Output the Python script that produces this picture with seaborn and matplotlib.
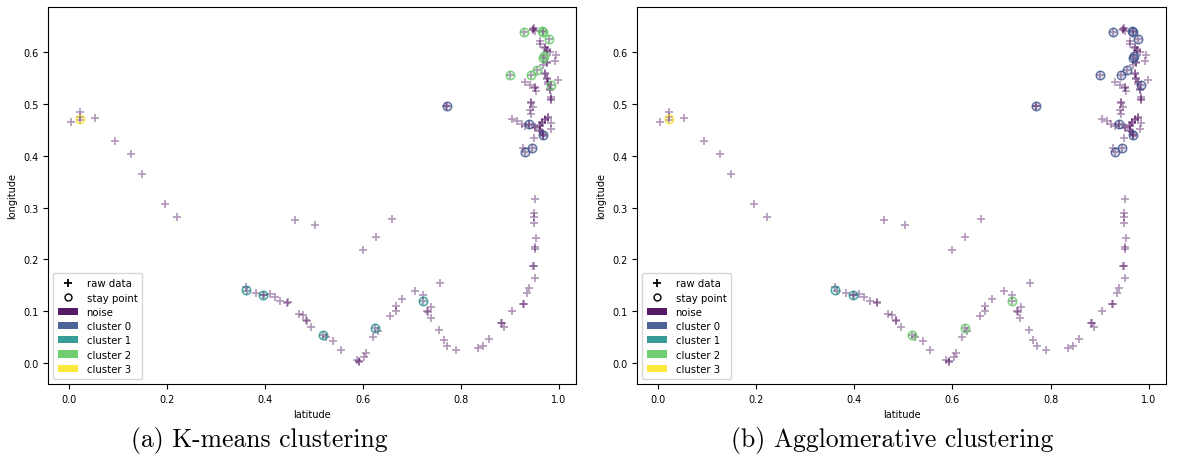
import numpy as np
import pandas as pd
import matplotlib
matplotlib.use("Agg")
import matplotlib.pyplot as plt
from matplotlib.lines import Line2D
from matplotlib.patches import Patch
import seaborn as sns

# Raw GPS trajectory (normalised)
raw_lat = [
    0.004, 0.022, 0.022, 0.022, 0.053, 0.093, 0.127, 0.148, 0.195, 0.221,
    0.461, 0.503, 0.600, 0.626, 0.659,
    0.361, 0.364, 0.382, 0.397, 0.399, 0.410, 0.420, 0.431, 0.446, 0.447,
    0.469, 0.477, 0.484, 0.485, 0.495, 0.518, 0.524, 0.539, 0.555, 0.587,
    0.592, 0.593, 0.603, 0.607, 0.620, 0.625, 0.630, 0.656, 0.667, 0.667,
    0.680, 0.706, 0.722, 0.722, 0.758, 0.731, 0.733, 0.740, 0.738, 0.755,
    0.765, 0.772, 0.790, 0.835, 0.846, 0.857, 0.882, 0.884, 0.888, 0.905,
    0.926, 0.928, 0.935, 0.939, 0.952, 0.948, 0.949, 0.952, 0.951, 0.954,
    0.949, 0.950, 0.950, 0.952,
    0.770, 0.771,
    0.948, 0.948, 0.949, 0.952, 0.961, 0.961, 0.967, 0.967, 0.928, 0.979,
    0.971, 0.971, 0.976, 0.976, 0.982, 0.995, 0.992, 0.975, 0.975, 0.968,
    0.967, 0.969, 0.971, 0.971, 0.975, 0.975, 0.978, 0.978, 0.982, 0.982,
    0.985, 0.985, 0.985, 0.999, 0.931, 0.941, 0.951, 0.951, 0.954, 0.944,
    0.956, 0.944, 0.900, 0.985,
    0.944, 0.948, 0.941, 0.944, 0.905, 0.915, 0.924, 0.931, 0.939, 0.939,
    0.951, 0.951, 0.961, 0.961, 0.965, 0.965, 0.971, 0.971, 0.978, 0.978,
    0.984, 0.983, 0.961, 0.961, 0.965, 0.968, 0.968, 0.968, 0.949, 0.946,
    0.927, 0.931,
]
raw_lon = [
    0.466, 0.485, 0.476, 0.470, 0.473, 0.429, 0.404, 0.366, 0.307, 0.281,
    0.276, 0.267, 0.218, 0.244, 0.278,
    0.146, 0.138, 0.135, 0.132, 0.131, 0.133, 0.128, 0.120, 0.115, 0.118,
    0.095, 0.093, 0.083, 0.080, 0.069, 0.053, 0.050, 0.042, 0.024, 0.006,
    0.001, 0.003, 0.011, 0.019, 0.049, 0.067, 0.062, 0.091, 0.110, 0.101,
    0.124, 0.138, 0.131, 0.120, 0.154, 0.101, 0.099, 0.108, 0.086, 0.064,
    0.044, 0.032, 0.024, 0.028, 0.032, 0.046, 0.076, 0.077, 0.069, 0.101,
    0.113, 0.114, 0.135, 0.145, 0.163, 0.187, 0.188, 0.220, 0.224, 0.241,
    0.270, 0.290, 0.282, 0.317,
    0.497, 0.496,
    0.646, 0.644, 0.647, 0.642, 0.623, 0.617, 0.639, 0.641, 0.639, 0.626,
    0.610, 0.608, 0.604, 0.602, 0.601, 0.595, 0.583, 0.581, 0.579, 0.575,
    0.589, 0.593, 0.559, 0.561, 0.549, 0.551, 0.540, 0.542, 0.527, 0.529,
    0.511, 0.513, 0.509, 0.546, 0.543, 0.537, 0.533, 0.531, 0.525, 0.503,
    0.567, 0.556, 0.556, 0.538,
    0.504, 0.495, 0.488, 0.482, 0.471, 0.467, 0.461, 0.458, 0.462, 0.460,
    0.456, 0.454, 0.460, 0.458, 0.466, 0.464, 0.472, 0.470, 0.476, 0.474,
    0.463, 0.453, 0.450, 0.448, 0.447, 0.440, 0.442, 0.438, 0.434, 0.415,
    0.415, 0.407,
]

# Detected stay points and their cluster labels under each method
stay_lat = [0.022, 0.361, 0.397, 0.518, 0.625, 0.722, 0.771,
            0.928, 0.967, 0.966, 0.979, 0.967, 0.969, 0.956, 0.944, 0.900, 0.985,
            0.939, 0.968, 0.946, 0.931]
stay_lon = [0.471, 0.140, 0.132, 0.053, 0.067, 0.120, 0.497,
            0.639, 0.639, 0.642, 0.626, 0.589, 0.593, 0.567, 0.556, 0.556, 0.538,
            0.462, 0.440, 0.415, 0.407]
kmeans_labels = [3, 1, 1, 1, 1, 1, 0,
                 2, 2, 2, 2, 2, 2, 2, 2, 2, 2,
                 0, 0, 0, 0]
agglo_labels = [3, 1, 1, 2, 2, 2, 0,
                0, 0, 0, 0, 0, 0, 0, 0, 0, 0,
                0, 0, 0, 0]

legend_names = ["noise", "cluster 0", "cluster 1", "cluster 2", "cluster 3"]
captions = ["(a) K-means clustering", "(b) Agglomerative clustering"]

palette = sns.color_palette("viridis", as_cmap=True)
class_colors = [palette(v) for v in np.linspace(0, 1, 5)]
noise_color = class_colors[0]

raw = pd.DataFrame({"latitude": raw_lat, "longitude": raw_lon})

fig = plt.figure(figsize=(11.82, 4.64), dpi=100)
axes = [fig.add_axes([0.0406, 0.1703, 0.4467, 0.8125]),
        fig.add_axes([0.5389, 0.1703, 0.4475, 0.8125])]

for ax, labels, caption, cx in zip(axes, [kmeans_labels, agglo_labels], captions,
                                   [0.219, 0.755]):
    sns.scatterplot(data=raw, x="latitude", y="longitude", marker="+",
                    color=noise_color, alpha=0.4, s=28, linewidth=1.25,
                    legend=False, ax=ax)
    stays = pd.DataFrame({"latitude": stay_lat, "longitude": stay_lon,
                          "label": labels})
    for lab, grp in stays.groupby("label"):
        c = class_colors[lab + 1]
        sns.scatterplot(data=grp, x="latitude", y="longitude", marker="o",
                        s=38, color=c, facecolor=(c[0], c[1], c[2], 0.18),
                        edgecolor=(c[0], c[1], c[2], 0.8), linewidth=1.0,
                        legend=False, ax=ax)
    ax.set_xlim(-0.043, 1.035)
    ax.set_ylim(-0.041, 0.688)
    ax.set_xticks([0.0, 0.2, 0.4, 0.6, 0.8, 1.0])
    ax.set_yticks([0.0, 0.1, 0.2, 0.3, 0.4, 0.5, 0.6])
    ax.tick_params(labelsize=7, length=3.5, width=0.8)
    ax.set_xlabel("latitude", fontsize=7)
    ax.set_ylabel("longitude", fontsize=7)
    for sp in ax.spines.values():
        sp.set_linewidth(0.8)

    handles = [Line2D([], [], marker="+", color="black", linestyle="none",
                      markersize=6, markeredgewidth=1.3, label="raw data"),
               Line2D([], [], marker="o", markerfacecolor="none",
                      markeredgecolor="black", linestyle="none", markersize=5,
                      label="stay point")]
    handles += [Patch(facecolor=col, alpha=0.9, label=name)
                for col, name in zip(class_colors, legend_names)]
    ax.legend(handles=handles, loc="lower left", fontsize=7.3, framealpha=0.8,
              handlelength=2.0, borderpad=0.5, labelspacing=0.42)

    fig.text(cx, 0.050, caption, ha="center", va="center", fontsize=18.5,
             family="cmr10")

fig.savefig("out.png", dpi=100)
